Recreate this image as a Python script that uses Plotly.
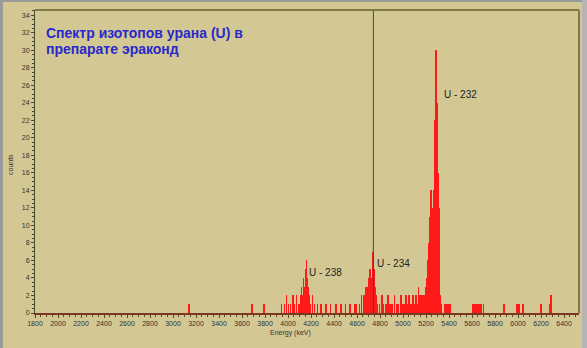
import plotly.graph_objects as go

# ---- data ----
energy_kev = [
    3137, 3684, 3788,
    3944, 3970, 3987, 4005, 4022, 4040, 4057, 4074, 4092, 4109, 4118, 4126, 4135,
    4144, 4152, 4161, 4170, 4178, 4187, 4196, 4213, 4230, 4256,
    4290, 4330, 4370, 4420, 4460, 4500, 4540, 4580,
    4595, 4621, 4638, 4656, 4664, 4673, 4682, 4690, 4699, 4708, 4716, 4725, 4734,
    4742, 4751, 4760, 4769, 4777, 4795,
    4815, 4830, 4850, 4870, 4890, 4905, 4925, 4945, 4960, 4980, 4995, 5010, 5025,
    5040, 5055, 5070, 5085, 5100, 5115, 5125, 5135, 5145, 5155, 5165,
    5177, 5185, 5194, 5203, 5211, 5220, 5229, 5237, 5246, 5255, 5263, 5272, 5281,
    5289, 5298, 5307, 5315, 5324, 5333,
    5365, 5375, 5385, 5395, 5405,
    5610, 5625, 5640, 5660, 5680, 5700,
    5880, 5990, 6010, 6040, 6200, 6280, 6290,
]
counts = [
    1, 1, 1,
    1, 1, 2, 1, 1, 2, 1, 2, 1, 2, 3, 2, 4,
    3, 5, 6, 4, 3, 2, 1, 2, 1, 1,
    1, 1, 1, 1, 1, 1, 1, 1,
    1, 1, 2, 1, 2, 3, 2, 3, 4, 3, 5, 4, 6,
    7, 5, 3, 2, 1, 1,
    2, 1, 1, 2, 1, 1, 2, 1, 1, 2, 1, 1, 2,
    1, 2, 1, 2, 1, 2, 1, 3, 2, 1, 2,
    1, 2, 1, 3, 4, 6, 8, 11, 14, 12, 4, 14, 22,
    30, 24, 16, 12, 2, 1,
    1, 1, 1, 1, 1,
    1, 1, 1, 1, 1, 1,
    1, 1, 1, 1, 1, 1, 2,
]
x_tick_values = list(range(1800, 6401, 200))
y_tick_values = list(range(0, 35, 2))
peak_labels = ["U - 238", "U - 234", "U - 232"]
peak_label_x = [4330, 4920, 5500]
peak_label_y = [4.6, 5.6, 25.0]
cursor_energy = 4742
title_lines = ["Спектр изотопов урана (U) в", "препарате эраконд"]

# ---- layout geometry ----
W, H = 587, 348
ML, MR, MT, MB = 35, 8, 10, 35
PW, PH = W - ML - MR, H - MT - MB


def px(x):
    return (x - ML) / PW


def py(y):
    return (H - MB - y) / PH


BG = "#d3c893"
fig = go.Figure()
fig.add_trace(go.Bar(
    x=energy_kev, y=counts, width=7,
    marker=dict(color="#ff1a1a", line=dict(width=0)),
    showlegend=False, hoverinfo="x+y",
))

for t, xx, yy in zip(peak_labels, peak_label_x, peak_label_y):
    fig.add_annotation(x=xx, y=yy, text=t, showarrow=False,
                       font=dict(family="Arial", size=10, color="#222"),
                       xanchor="center", yanchor="middle")

for i, line in enumerate(title_lines):
    fig.add_annotation(x=px(44), y=py(33 + 15.5 * i), xref="paper", yref="paper",
                       text="<b>" + line + "</b>",
                       showarrow=False, align="left",
                       xanchor="left", yanchor="middle",
                       font=dict(family="Arial", size=14, color="#2828cc"))
fig.add_annotation(x=px(290), y=py(333), xref="paper", yref="paper",
                   text="Energy (keV)", showarrow=False,
                   xanchor="center", yanchor="middle",
                   font=dict(family="Arial", size=7, color="#333"))
fig.add_annotation(x=px(10), y=py(165), xref="paper", yref="paper",
                   text="counts", showarrow=False, textangle=-90,
                   xanchor="center", yanchor="middle",
                   font=dict(family="Arial", size=7, color="#333"))

shapes = [
    dict(type="line", xref="x", yref="paper", x0=cursor_energy, x1=cursor_energy,
         y0=0, y1=1, line=dict(color="#444", width=1)),
    dict(type="line", xref="paper", yref="paper", x0=0, x1=1, y0=1, y1=1,
         line=dict(color="#7d7a45", width=2)),
    dict(type="line", xref="paper", yref="paper", x0=1, x1=1, y0=0, y1=1,
         line=dict(color="#7d7a45", width=2)),
    dict(type="line", xref="paper", yref="paper", x0=px(1.5), x1=px(1.5), y0=py(H), y1=py(0),
         line=dict(color="#9a9a9a", width=3)),
    dict(type="line", xref="paper", yref="paper", x0=px(0), x1=px(W), y0=py(1), y1=py(1),
         line=dict(color="#9a9a9a", width=2)),
    dict(type="line", xref="paper", yref="paper", x0=px(584.5), x1=px(584.5), y0=py(H), y1=py(0),
         line=dict(color="#b4b4b4", width=5)),
]

fig.update_layout(
    width=W, height=H,
    margin=dict(l=ML, r=MR, t=MT, b=MB, autoexpand=False),
    paper_bgcolor=BG, plot_bgcolor=BG,
    bargap=0, shapes=shapes,
    font=dict(family="Arial", size=7, color="#333"),
    xaxis=dict(range=[1800, 6530], tickvals=x_tick_values,
               ticktext=[str(v) for v in x_tick_values],
               automargin=False,
               showgrid=False, zeroline=False, showline=True,
               linecolor="#7a3a22", linewidth=2,
               ticks="outside", ticklen=3, tickcolor="#5a4a30",
               minor=dict(dtick=50, ticks="outside", ticklen=2, tickcolor="#5a4a30"),
               tickfont=dict(family="Arial", size=7, color="#333")),
    yaxis=dict(range=[0, 34.6], tickvals=y_tick_values,
               automargin=False,
               showgrid=False, zeroline=False, showline=True,
               linecolor="#4a4a30", linewidth=1,
               ticks="outside", ticklen=3, tickcolor="#4a4a30",
               minor=dict(dtick=0.5, ticks="outside", ticklen=2, tickcolor="#4a4a30"),
               tickfont=dict(family="Arial", size=7, color="#333")),
)

fig.write_html("out.html", config={"displayModeBar": False},
               post_script="document.body.style.margin='0px';document.body.style.overflow='hidden';")
